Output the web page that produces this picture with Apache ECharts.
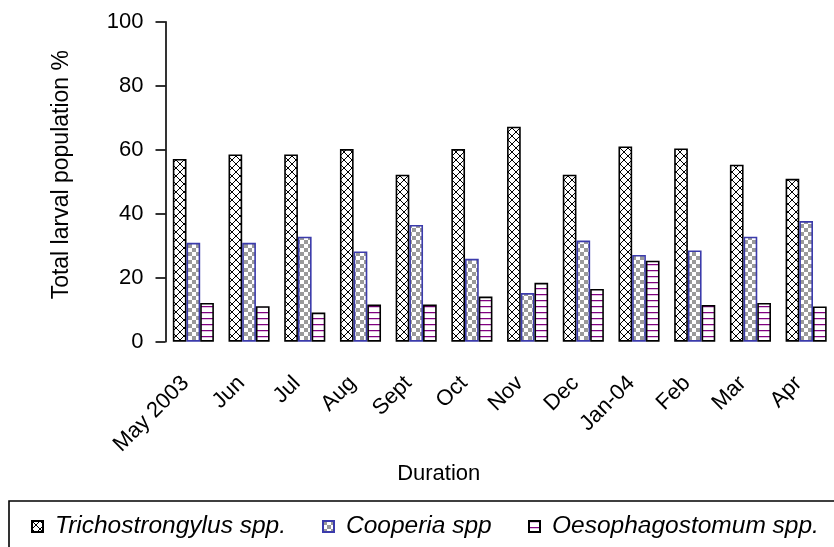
<!DOCTYPE html>
<html>
<head>
<meta charset="utf-8">
<script src="https://cdn.jsdelivr.net/npm/echarts@6/dist/echarts.min.js"></script>
<style>
html,body{margin:0;padding:0;background:#fff;}
#chart{width:834px;height:547px;}
</style>
</head>
<body>
<div id="chart"></div>
<script>
const months = ['May 2003','Jun','Jul','Aug','Sept','Oct','Nov','Dec','Jan-04','Feb','Mar','Apr'];
const trichostrongylus = [57.1, 58.5, 58.5, 60.2, 52.2, 60.2, 67.2, 52.2, 61.0, 60.4, 55.3, 50.9];
const cooperia = [30.9, 30.9, 32.8, 28.2, 36.5, 25.9, 15.2, 31.6, 27.1, 28.5, 32.8, 37.7];
const oesophagostomum = [12.1, 11.1, 9.1, 11.6, 11.6, 14.1, 18.4, 16.5, 25.3, 11.5, 12.1, 11.0];
const yTicks = [0, 20, 40, 60, 80, 100];
const seriesNames = ['Trichostrongylus spp.', 'Cooperia spp', 'Oesophagostomum spp.'];

function makeCanvas(w, h, draw) {
  const c = document.createElement('canvas');
  c.width = w; c.height = h;
  const g = c.getContext('2d');
  draw(g, w, h);
  return c;
}
const hatch = makeCanvas(8, 8, (g, w, h) => {
  g.fillStyle = '#fff'; g.fillRect(0, 0, w, h);
  g.strokeStyle = '#000'; g.lineWidth = 1;
  g.beginPath();
  g.moveTo(0, 0); g.lineTo(w, h);
  g.moveTo(w, 0); g.lineTo(0, h);
  g.stroke();
});
const checker = makeCanvas(8, 8, (g, w, h) => {
  g.fillStyle = '#fff'; g.fillRect(0, 0, w, h);
  g.fillStyle = '#9a9a9a';
  g.fillRect(0, 0, 4, 4); g.fillRect(4, 4, 4, 4);
});
const stripes = makeCanvas(4, 6, (g, w, h) => {
  g.fillStyle = '#fff'; g.fillRect(0, 0, w, h);
  g.fillStyle = '#800080'; g.fillRect(0, 0, w, 1);
  g.fillStyle = '#e0c0e0'; g.fillRect(0, 1, w, 1);
});

const FONT = "'Liberation Sans', Arial, sans-serif";
const chart = echarts.init(document.getElementById('chart'), null, {renderer: 'canvas'});

const legendCommon = {
  orient: 'horizontal',
  top: 514,
  padding: 0,
  itemWidth: 11,
  itemHeight: 11,
  icon: 'rect',
  selectedMode: false,
  textStyle: {fontFamily: FONT, fontSize: 24.5, fontStyle: 'italic', color: '#000', padding: [0, 0, 0, 7]}
};

chart.setOption({
  animation: false,
  backgroundColor: '#fff',
  grid: {left: 165.5, right: -21.3, top: 21.7, bottom: 205.3, containLabel: false},
  xAxis: {
    type: 'category',
    data: months,
    axisLine: {show: false},
    axisTick: {show: false},
    axisLabel: {
      rotate: 45, interval: 0, margin: 46,
      align: 'right', verticalAlign: 'bottom',
      fontFamily: FONT, fontSize: 22, color: '#000'
    },
    name: 'Duration',
    nameLocation: 'middle',
    nameGap: 118,
    nameTextStyle: {fontFamily: FONT, fontSize: 22, color: '#000', padding: [0, 122, 0, 0]}
  },
  yAxis: {
    type: 'value',
    min: yTicks[0], max: yTicks[yTicks.length - 1], interval: 20,
    axisLine: {show: true, lineStyle: {color: '#000', width: 1.6}},
    axisTick: {show: true, inside: false, length: 10, lineStyle: {color: '#000', width: 1.6}},
    splitLine: {show: false},
    axisLabel: {margin: 22, fontFamily: FONT, fontSize: 22, color: '#000'},
    name: 'Total larval population %',
    nameLocation: 'middle',
    nameGap: 92,
    nameRotate: 90,
    nameTextStyle: {fontFamily: FONT, fontSize: 23, color: '#000', padding: [0, 0, 0, 14]}
  },
  legend: [
    Object.assign({}, legendCommon, {left: 31, data: [seriesNames[0]]}),
    Object.assign({}, legendCommon, {left: 322, data: [seriesNames[1]]}),
    Object.assign({}, legendCommon, {left: 528, data: [seriesNames[2]]})
  ],
  graphic: [{
    type: 'rect',
    shape: {x: 9, y: 501, width: 1000, height: 200},
    style: {fill: 'none', stroke: '#000', lineWidth: 1.6},
    silent: true
  }],
  series: [
    {
      name: seriesNames[0], type: 'bar', data: trichostrongylus,
      barWidth: 13.7, barGap: '0%',
      itemStyle: {color: {image: hatch, repeat: 'repeat'}, borderColor: '#000', borderWidth: 1.6}
    },
    {
      name: seriesNames[1], type: 'bar', data: cooperia,
      barWidth: 13.7, barGap: '0%',
      itemStyle: {color: {image: checker, repeat: 'repeat'}, borderColor: '#3b3bab', borderWidth: 1.6}
    },
    {
      name: seriesNames[2], type: 'bar', data: oesophagostomum,
      barWidth: 13.7, barGap: '0%',
      itemStyle: {color: {image: stripes, repeat: 'repeat'}, borderColor: '#000', borderWidth: 1.6}
    }
  ]
});
</script>
</body>
</html>
